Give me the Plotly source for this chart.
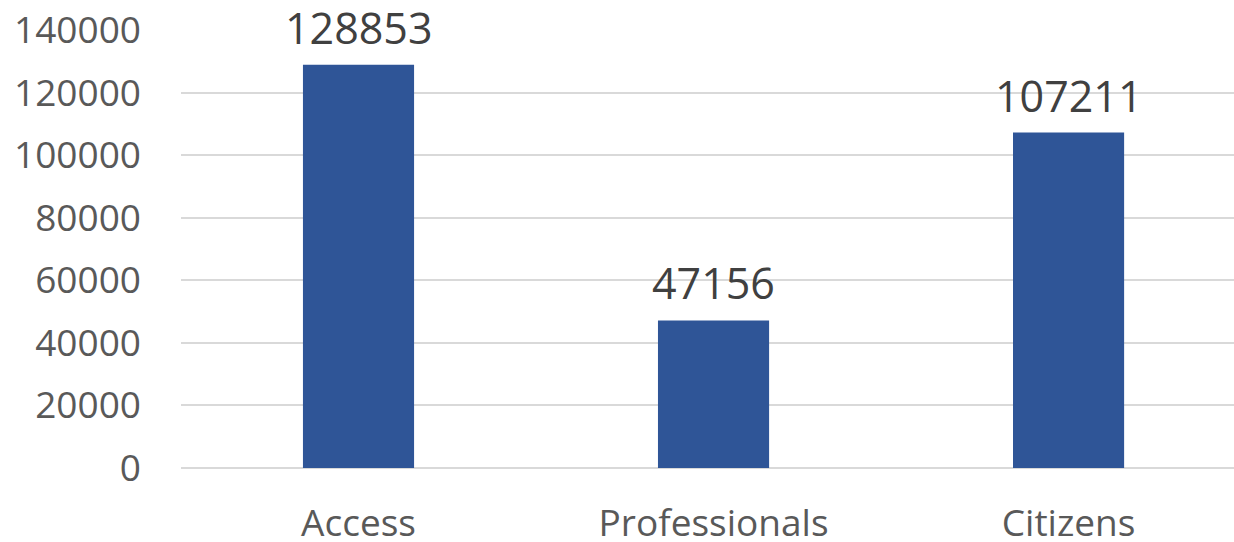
import plotly.graph_objects as go

categories = ["Access", "Professionals", "Citizens"]
values = [128853, 47156, 107211]
y_ticks = [0, 20000, 40000, 60000, 80000, 100000, 120000, 140000]

FONT = "Open Sans"

fig = go.Figure()
fig.add_trace(go.Bar(
    x=categories, y=values,
    marker=dict(color="#2F5597", line=dict(width=0)),
    width=0.313,
    hoverinfo="x+y",
))

for c, v in zip(categories, values):
    fig.add_annotation(
        x=c, y=v, text=str(v), showarrow=False,
        yanchor="bottom", yshift=6,
        font=dict(family=FONT, size=43, color="#404040"),
    )

fig.update_layout(
    width=1234, height=542,
    margin=dict(l=181, r=0, t=30, b=74),
    plot_bgcolor="white", paper_bgcolor="white",
    showlegend=False,
    font=dict(family=FONT, color="#595959"),
)
fig.update_xaxes(
    range=[-0.5, 2.466],
    tickfont=dict(family=FONT, size=37, color="#595959"),
    showgrid=False, showline=False, ticks="",
    ticklabelstandoff=30,
    automargin=False,
)
fig.update_yaxes(
    range=[0, 140000],
    tickvals=y_ticks, ticktext=[str(t) for t in y_ticks],
    tickfont=dict(family=FONT, size=37, color="#595959"),
    showgrid=True, gridcolor="#D9D9D9", gridwidth=2,
    zeroline=True, zerolinecolor="#D9D9D9", zerolinewidth=2,
    showline=False, ticks="",
    ticklabelstandoff=39,
    automargin=False,
)

fig.write_html("out.html")
